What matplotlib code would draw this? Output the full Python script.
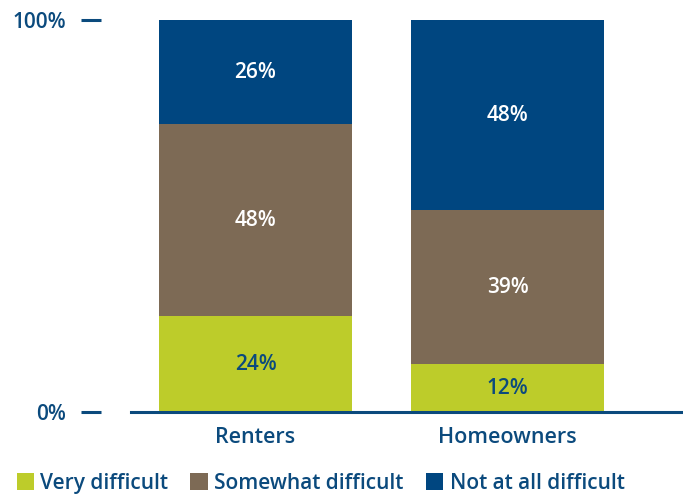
import matplotlib
matplotlib.use("Agg")
import matplotlib.pyplot as plt
import matplotlib.transforms as mtransforms
from matplotlib.patches import Patch
import numpy as np

categories = ["Renters", "Homeowners"]
series_names = ["Very difficult", "Somewhat difficult", "Not at all difficult"]
very_difficult = [24, 12]
somewhat_difficult = [48, 39]
not_difficult = [26, 48]
ytick_labels = ["0%", "100%"]

colors = ["#BDCC2A", "#7D6A55", "#004680"]
label_colors = ["#0B4A7D", "white", "white"]
text_color = "#0B4A7D"

plt.rcParams['font.family'] = ['Open Sans', 'DejaVu Sans']

fig = plt.figure(figsize=(6.83, 4.94), dpi=100)
W, H = 683, 494
ax = fig.add_axes([131 / W, (H - 412) / H, (683 - 131) / W, (412 - 20) / H])

data = np.array([very_difficult, somewhat_difficult, not_difficult], dtype=float)
totals = data.sum(axis=0)
norm = data / totals * 100
x = np.arange(len(categories))
bottom = np.zeros(len(categories))
for i, name in enumerate(series_names):
    bars = ax.bar(x, norm[i], bottom=bottom, width=0.766, color=colors[i], label=name, zorder=2)
    for j, b in enumerate(bars):
        ax.text(b.get_x() + b.get_width() / 2, bottom[j] + norm[i][j] / 2, f"{int(data[i][j])}%",
                ha="center", va="center", color=label_colors[i], fontsize=15, fontweight="semibold")
    bottom += norm[i]

ax.set_xlim(-0.494, 1.696)
ax.set_ylim(0, 100)
for s in ["top", "right", "left"]:
    ax.spines[s].set_visible(False)
ax.spines["bottom"].set_color("#0B4A7D")
ax.spines["bottom"].set_linewidth(2.2)
ax.spines["bottom"].set_zorder(3)

ax.set_xticks(x)
ax.set_xticklabels(categories, fontsize=15.5, color=text_color, fontweight="semibold")
ax.tick_params(axis="x", length=0, pad=11)
ax.set_yticks([0, 100])
ax.set_yticklabels(ytick_labels, fontsize=15, color=text_color, fontweight="semibold")
ax.tick_params(axis="y", length=0, pad=47)

# dash marks beside y labels
trans = mtransforms.blended_transform_factory(fig.transFigure, ax.transData)
for yv in [0, 100]:
    ax.plot([81 / W, 101 / W], [yv, yv], transform=trans, color=text_color, lw=2.2,
            clip_on=False, solid_capstyle="butt")

handles = [Patch(facecolor=c, edgecolor="none") for c in colors]
fig.legend(handles, series_names, loc="center left", bbox_to_anchor=(0.012, 0.022), ncol=3,
           frameon=False, handlelength=0.85, handleheight=0.85, handletextpad=0.3,
           columnspacing=1.05, labelcolor=text_color, borderaxespad=0,
           prop={"size": 15, "weight": "semibold"})

fig.savefig("out.png", dpi=100)
